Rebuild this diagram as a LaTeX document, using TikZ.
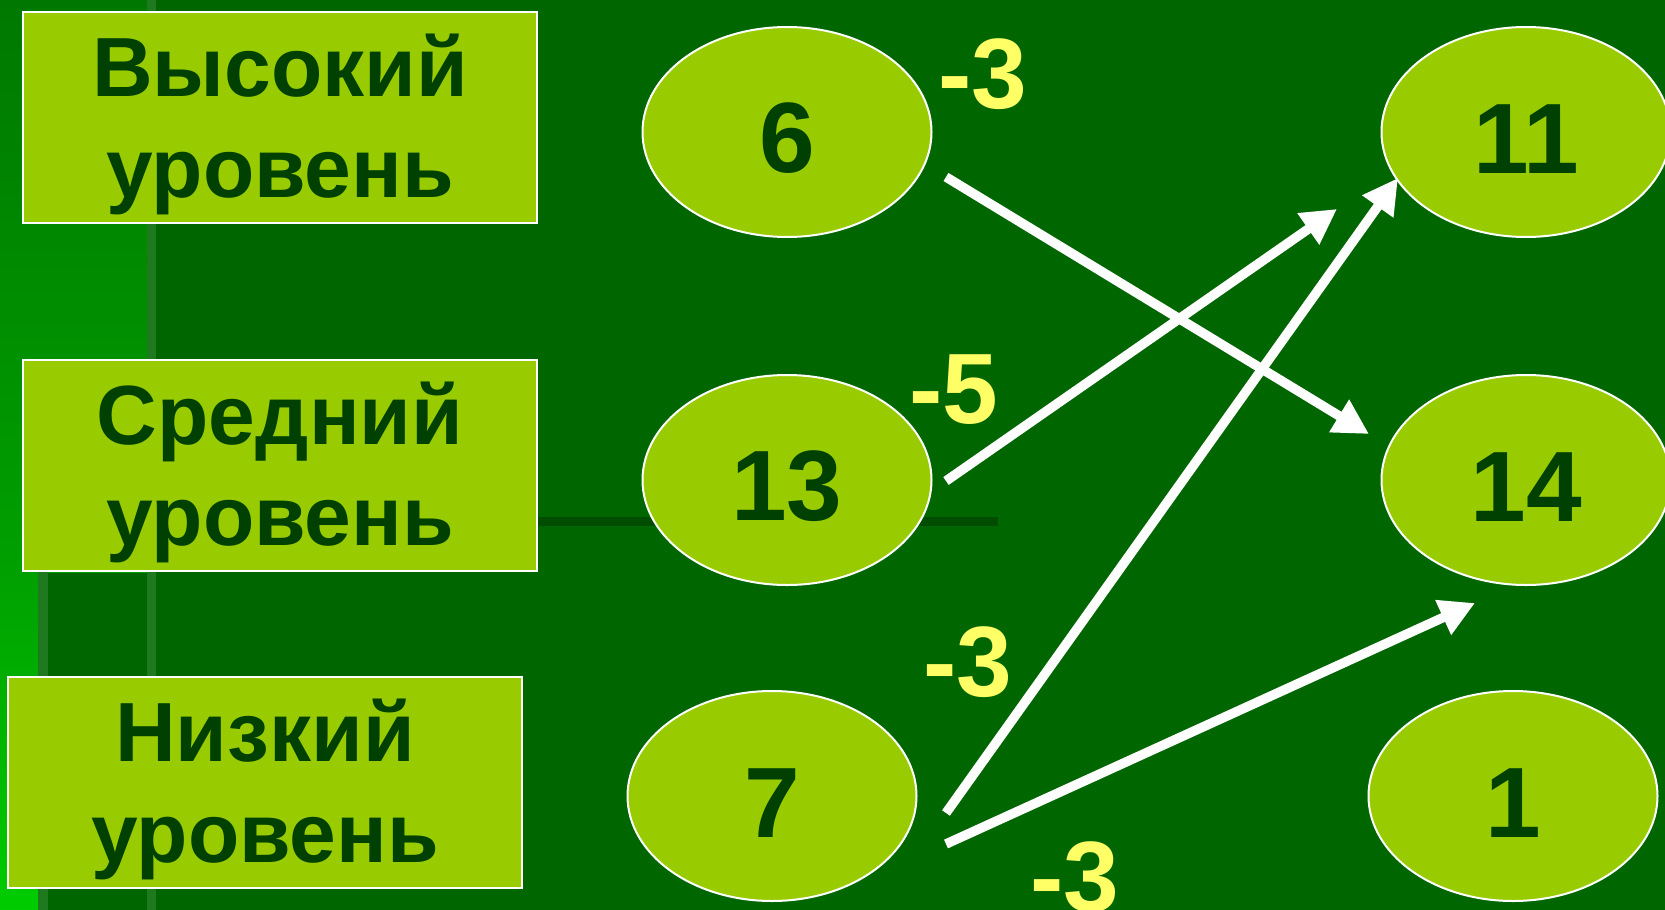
\documentclass[tikz,border=0pt]{standalone}
\usepackage{fontspec}
\setmainfont{Liberation Sans}
\usetikzlibrary{shapes.geometric,arrows.meta}
\definecolor{bgdark}{HTML}{006600}
\definecolor{limefill}{HTML}{99CC00}
\definecolor{txtdark}{HTML}{004000}
\definecolor{labelyellow}{HTML}{FFFF66}
\definecolor{stripecol}{HTML}{1F7A1F}
\definecolor{hlinecol}{HTML}{004D00}
\definecolor{gA}{HTML}{007800}
\definecolor{gB}{HTML}{00A000}
\definecolor{gC}{HTML}{00CC00}
\begin{document}
\begin{tikzpicture}[x=1pt,y=-1pt,
  levelbox/.style={rectangle, draw=white, line width=2pt, fill=limefill,
    minimum width=514pt, minimum height=211pt, inner sep=0pt},
  leveltext/.style={text=txtdark, font=\fontsize{84}{101}\selectfont\bfseries,
    align=center, inner sep=0pt},
  numoval/.style={ellipse, draw=white, line width=2pt, fill=limefill, text=txtdark,
    font=\fontsize{100}{100}\selectfont\bfseries, text height=82pt,
    minimum width=289pt, minimum height=210pt, inner sep=0pt},
  delta/.style={text=labelyellow, font=\fontsize{100}{100}\selectfont\bfseries, inner sep=0pt},
  move/.style={draw=white, line width=9.5pt, -{Triangle[length=35pt,width=36pt]}}
]
\useasboundingbox (0,0) rectangle (1665,910);
\clip (0,0) rectangle (1665,910);
% background
\fill[bgdark] (0,0) rectangle (1665,910);
\shade[top color=gA, bottom color=gB] (0,0) rectangle (147,572);
\shade[top color=gB, bottom color=gC] (0,572) rectangle (38,910);
\fill[stripecol] (147,0) rectangle (156,910);
\fill[stripecol] (38,572) rectangle (48,910);
\fill[hlinecol] (160,517) rectangle (998,526);
% level boxes
\node[levelbox] (high) at (280,117.5) {};
\node[leveltext] (hightext) at ([yshift=-7pt]high.center) {Высокий\\уровень};
\node[levelbox] (mid) at (280,465.5) {};
\node[leveltext] (midtext) at ([yshift=-7pt]mid.center) {Средний\\уровень};
\node[levelbox] (low) at (265,782) {};
\node[leveltext] (lowtext) at ([yshift=-7pt]low.center) {Низкий\\уровень};
% ovals
\node[numoval] (e6) at (787,132) {6};
\node[numoval] (e13) at (787,480) {13};
\node[numoval] (e7) at (772,796) {7};
\node[numoval] (e11) at (1526,132) {11};
\node[numoval] (e14) at (1526,480) {14};
\node[numoval] (e1) at (1513,796) {1};
% arrows
\coordinate (a1s) at (946,177); \coordinate (a1e) at (1369,434);
\coordinate (a2s) at (946,481); \coordinate (a2e) at (1337,209);
\coordinate (a3s) at (946,813); \coordinate (a3e) at (1398,178);
\coordinate (a4s) at (946,844); \coordinate (a4e) at (1475,603);
\draw[move] (a1s) -- (a1e);
\draw[move] (a2s) -- (a2e);
\draw[move] (a3s) -- (a3e);
\draw[move] (a4s) -- (a4e);
% labels
\node[delta] (d1) at (983,74) {-3};
\node[delta] (d2) at (954,390) {-5};
\node[delta] (d3) at (968,662) {-3};
\node[delta] (d4) at (1075,877) {-3};
\end{tikzpicture}
\end{document}
